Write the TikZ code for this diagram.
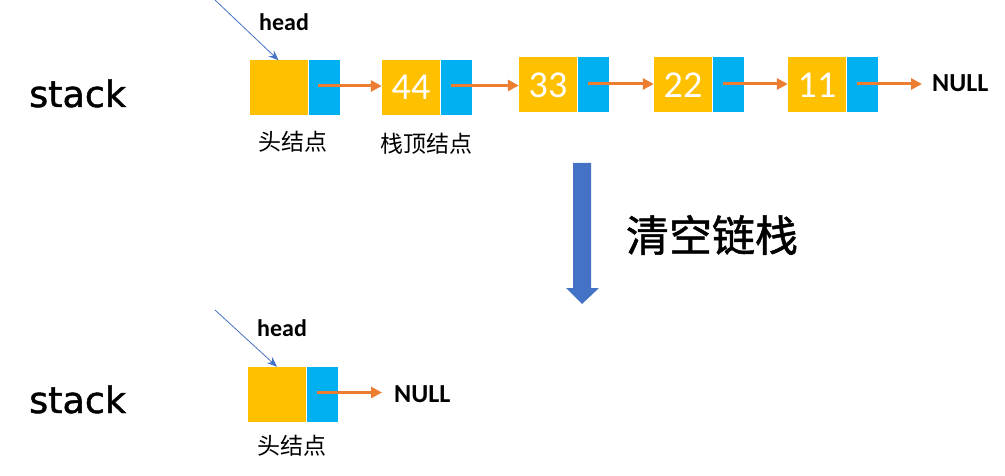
\documentclass[tikz,border=0pt]{standalone}
\usepackage{fontspec}
\setmainfont{Carlito}
\newfontfamily\cjk{Noto Sans CJK SC}
\newfontfamily\cjkb[FakeBold=1.2]{Noto Sans CJK SC}
\newfontfamily\dejavu[FakeBold=1.2]{DejaVu Sans}
\usetikzlibrary{arrows.meta,calc}
\definecolor{cyel}{HTML}{FFC000}
\definecolor{cblu}{HTML}{00B0F0}
\definecolor{corg}{HTML}{ED7D31}
\definecolor{cptr}{HTML}{4472C4}
\definecolor{cbig}{HTML}{4472C4}
\tikzset{
  ybox/.style={fill=cyel, draw=none, minimum width=58pt, minimum height=55pt, inner sep=0pt, text=white, font=\fontsize{38}{40}\selectfont},
  bbox/.style={fill=cblu, draw=none, minimum width=31pt, minimum height=55pt, inner sep=0pt},
  oarrow/.style={draw=corg, line width=3pt, -{Triangle[length=11pt,width=11pt]}},
  parrow/.style={draw=cptr, line width=0.8pt, -{Stealth[length=10pt,width=8pt]}},
  stacklbl/.style={font=\dejavu\fontsize{36.5}{38}\selectfont, inner sep=0pt, anchor=base west},
  headlbl/.style={font=\bfseries\fontsize{24}{26}\selectfont, inner sep=0pt, anchor=base west},
  nulllbl/.style={font=\bfseries\fontsize{26}{28}\selectfont, inner sep=0pt, anchor=base west},
  cnlbl/.style={font=\cjk\fontsize{23}{25}\selectfont, inner sep=0pt},
}
\begin{document}
\begin{tikzpicture}[x=1pt,y=-1pt]
\useasboundingbox (0,0) rectangle (1005,476);

% ---------- top list ----------
\node[stacklbl] (stack1) at (29,107) {stack};

\node[ybox] (y1) at (278.5,88) {};
\node[bbox] (b1) at (324,88) {};
\node[ybox] (y2) at (411,87.5) {44};
\node[bbox] (b2) at (456.5,87.5) {};
\node[ybox] (y3) at (548,85) {33};
\node[bbox] (b3) at (593.5,85) {};
\node[ybox] (y4) at (683,85) {22};
\node[bbox] (b4) at (728.5,85) {};
\node[ybox] (y5) at (817,85) {11};
\node[bbox] (b5) at (862.5,85) {};
\node[nulllbl] (null1) at (932,92) {NULL};

\node[headlbl] (head1) at (259,31) {head};
\coordinate (hs1) at (215,0);
\draw[parrow] (hs1) -- (y1.north);

\node[cnlbl] (l1) at (293,142) {头结点};
\node[cnlbl] (l2) at (426,144) {栈顶结点};

\draw[oarrow] ([xshift=-6pt,yshift=2pt]b1.center) -- ([yshift=2pt]b1.center -| y2.west);
\draw[oarrow] ([xshift=-6pt,yshift=2pt]b2.center) -- ([yshift=2pt]b2.center -| y3.west);
\draw[oarrow] ([xshift=-6pt,yshift=1pt]b3.center) -- ([yshift=1pt]b3.center -| y4.west);
\draw[oarrow] ([xshift=-6pt,yshift=1pt]b4.center) -- ([yshift=1pt]b4.center -| y5.west);
\draw[oarrow] ([xshift=-6pt,yshift=1pt]b5.center) -- ([xshift=-10pt,yshift=1pt]b5.center -| null1.west);

% ---------- big arrow ----------
\fill[cbig] (573,163) -- (591,163) -- (591,288) -- (599,288) -- (582,304) -- (566,288) -- (573,288) -- cycle;
\node[font=\cjkb\fontsize{43}{45}\selectfont, inner sep=0pt] (clear) at (712,235) {清空链栈};

% ---------- bottom list ----------
\node[stacklbl] (stack2) at (29,413) {stack};
\node[ybox] (y6) at (277,394.5) {};
\node[bbox] (b6) at (322.5,394.5) {};
\node[nulllbl] (null2) at (394,402) {NULL};
\node[headlbl] (head2) at (257,336) {head};
\coordinate (hs2) at (215,310);
\draw[parrow] (hs2) -- (y6.north);
\node[cnlbl] (l3) at (292,446) {头结点};
\draw[oarrow] ([xshift=-6pt,yshift=2pt]b6.center) -- ([xshift=-12pt,yshift=2pt]b6.center -| null2.west);
\end{tikzpicture}
\end{document}
